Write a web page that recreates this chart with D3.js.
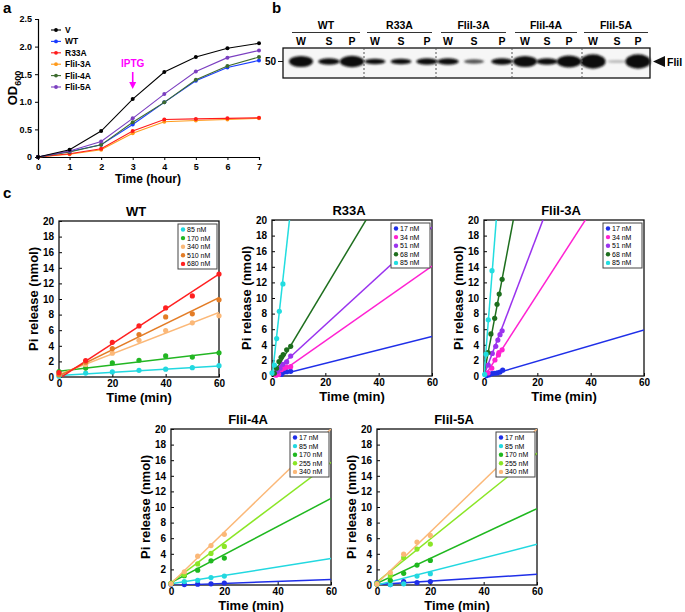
<!DOCTYPE html>
<html><head><meta charset="utf-8">
<script src="https://cdn.jsdelivr.net/npm/d3@7"></script>
<style>body{margin:0;background:#fff}svg{display:block;font-family:"Liberation Sans",Arial,Helvetica,sans-serif}</style>
</head><body><svg id="c" width="685" height="612"></svg>
<script>
// ---------- Panel a data ----------
const hours = [0,1,2,3,4,5,6,7];
const growthNames = ["V","WT","R33A","FliI-3A","FliI-4A","FliI-5A"];
const growthColors = ["#000000","#1a3cff","#ff1a1a","#ff9a1a","#3d6b2e","#7b3fc0"];
const odV      = [0,0.13,0.47,1.05,1.54,1.81,1.97,2.06];
const odWT     = [0,0.10,0.22,0.59,0.99,1.38,1.62,1.75];
const odR33A   = [0,0.06,0.15,0.47,0.68,0.69,0.70,0.71];
const odFliI3A = [0,0.05,0.13,0.43,0.64,0.66,0.68,0.70];
const odFliI4A = [0,0.09,0.22,0.63,0.99,1.40,1.65,1.81];
const odFliI5A = [0,0.11,0.28,0.70,1.14,1.55,1.80,1.93];
const odTicks = [0,0.5,1.0,1.5,2.0,2.5];

// ---------- Panel b data ----------
const blotGroups = ["WT","R33A","FliI-3A","FliI-4A","FliI-5A"];
const blotLanes = ["W","S","P"];
// band intensity (relative thickness) per group per lane
const bandStrength = [[1.0,0.6,1.05],[0.5,0.5,0.6],[0.6,0.4,0.6],[1.0,0.6,1.1],[1.3,0.25,1.3]];

// ---------- Panel c data ----------
const cTitles = ["WT","R33A","FliI-3A","FliI-4A","FliI-5A"];
const xTicksC = [0,20,40,60];
const yTicksC = [0,2,4,6,8,10,12,14,16,18,20];

const wtConc = ["85 nM","170 nM","340 nM","510 nM","680 nM"];
const wtColors = ["#22d8e0","#22b622","#fbb878","#e37c26","#ff2020"];
const wtTime = [0,10,20,30,40,50,60];
const wt85  = [0.10,0.50,0.65,0.85,1.00,1.20,1.45];
const wt170 = [0.70,1.15,1.80,2.15,2.70,2.55,3.10];
const wt340 = [0.30,1.60,3.05,4.70,5.95,6.95,7.85];
const wt510 = [0.30,1.90,3.65,5.45,7.70,8.10,9.90];
const wt680 = [0.55,2.10,4.45,6.55,8.85,10.40,13.20];
const wtFit = [[0.2,0.020],[0.75,0.040],[0.3,0.133],[0.15,0.167],[-0.2,0.223]];

const lowConc = ["17 nM","34 nM","51 nM","68 nM","85 nM"];
const lowColors = ["#1f2fe8","#ff22d2","#9a33ee","#1d6e1d","#22dde0"];
const r33aTimes = [[3.5,4,5.5,7],[1.5,2.5,3.5,4.5,5.5,7],[2,3,4,5.5,7],[0.9,1.7,2.6,3.4,4.2,5.5,7],[0,0.9,1.75,2.74,4.1]];
const r33aVals  = [[0.2,0.45,0.55,0.6],[0.1,0.2,0.8,1.0,1.15,1.2],[0.6,1.0,1.5,1.8,2.55],[0.35,1.0,1.85,2.4,2.75,3.35,3.8],[0.4,1.4,4.8,8.3,11.8]];
const r33aFit   = [[-0.1,0.086],[-0.3,0.24],[0.3,0.313],[-0.1,0.57],[-0.3,3.1]];

const f3Times = [[1,2,3,4,5,6,7],[1.5,2.9,4.1,5.4,5.6,6.8],[1.6,3.1,4.4,5.2,6.0,6.8],[1.5,2.6,4.0,4.9,5.7,6.8],[0.25,0.75,1.6,3.0]];
const f3Vals  = [[0.05,0.15,0.3,0.35,0.4,0.5,0.75],[0.4,1.0,2.05,2.7,3.0,3.35],[1.4,2.9,3.8,4.6,5.3,5.8],[3.0,5.4,7.4,9.2,10.5,12.4],[0.2,2.8,7.2,13.5]];
const f3Fit   = [[-0.1,0.1],[-0.15,0.53],[0.1,0.9],[0.2,1.8],[0,4.35]];

const highConc = ["17 nM","85 nM","170 nM","255 nM","340 nM"];
const highColors = ["#1f2fe8","#22d8e0","#1fb81f","#8be626","#fbb878"];
const hTime = [0,5,10,15,20];
const f4Vals = [[0.1,0.05,0.1,0.15,0.25],[0.15,0.45,0.6,0.95,1.15],[0.2,1.2,1.9,3.1,3.45],[0.2,1.3,2.7,4.05,4.95],[0.15,1.7,3.7,5.05,6.5]];
const f4Fit  = [[-0.05,0.0128],[0.15,0.054],[0.3,0.18],[0.3,0.257],[0.2,0.33]];
const f5Vals = [[0.3,0.05,0.45,0.3,0.45],[0.1,0.05,0.15,1.15,1.45],[0.1,0.6,1.5,2.55,3.15],[0.2,1.2,3.5,4.6,5.25],[0.1,1.6,3.95,5.5,6.35]];
const f5Fit  = [[0.05,0.022],[0.0,0.087],[0.2,0.16],[0.4,0.275],[0.2,0.33]];

// ================= drawing =================
const svg = d3.select("#c");
const defs = svg.append("defs");
defs.append("filter").attr("id","blur").attr("x","-50%").attr("y","-100%").attr("width","200%").attr("height","300%")
  .append("feGaussianBlur").attr("stdDeviation",1.3);

function panelLabel(t,x,y){svg.append("text").attr("x",x).attr("y",y).attr("font-size",15).attr("font-weight","bold").text(t);}

// ---------- Panel a ----------
panelLabel("a",3,13);
{
  const x = d3.scaleLinear().domain([0,7]).range([38,259]);
  const y = d3.scaleLinear().domain([0,2.5]).range([157,19]);
  const g = svg.append("g");
  const ax = g.append("g").attr("transform","translate(0,157)").call(d3.axisBottom(x).tickValues(hours).tickSize(3).tickFormat(d3.format("d")));
  const ay = g.append("g").attr("transform","translate(38,0)").call(d3.axisLeft(y).tickValues(odTicks).tickSize(3).tickFormat(d=>d===0?"0":d3.format(".1f")(d)));
  [ax,ay].forEach(a=>{a.selectAll("text").attr("font-size",9).attr("font-weight","bold").attr("font-family","Liberation Sans, Arial");a.select(".domain").attr("stroke-width",1.2);});
  ax.selectAll("text").attr("dy","0.75em");
  const series = [odV,odWT,odR33A,odFliI3A,odFliI4A,odFliI5A];
  const line = d3.line().x((d,i)=>x(hours[i])).y(d=>y(d));
  [3,2,1,4,5,0].forEach(k=>{
    g.append("path").attr("d",line(series[k])).attr("fill","none").attr("stroke",growthColors[k]).attr("stroke-width",1.1);
    g.selectAll(null).data(series[k]).enter().append("circle").attr("cx",(d,i)=>x(hours[i])).attr("cy",d=>y(d)).attr("r",2).attr("fill",growthColors[k]);
  });
  // legend
  growthNames.forEach((n,i)=>{
    const yy = 30 + i*11.4;
    g.append("line").attr("x1",51).attr("x2",61).attr("y1",yy).attr("y2",yy).attr("stroke",growthColors[i]).attr("stroke-width",1.1);
    g.append("circle").attr("cx",56).attr("cy",yy).attr("r",1.9).attr("fill",growthColors[i]);
    g.append("text").attr("x",65).attr("y",yy+3).attr("font-size",8.5).attr("font-weight","bold").text(n);
  });
  // IPTG arrow
  g.append("text").attr("x",x(3)).attr("y",67).attr("text-anchor","middle").attr("font-size",10).attr("font-weight","bold").attr("fill","#ff00ff").text("IPTG");
  g.append("line").attr("x1",x(3)).attr("x2",x(3)).attr("y1",72).attr("y2",83).attr("stroke","#ff00ff").attr("stroke-width",1.6);
  g.append("path").attr("d",`M${x(3)-3.5},82 L${x(3)+3.5},82 L${x(3)},89 Z`).attr("fill","#ff00ff");
  // axis titles
  const od = g.append("text").attr("transform","translate(17,88) rotate(-90)").attr("text-anchor","middle").attr("font-size",13).attr("font-weight","bold");
  od.append("tspan").text("OD");
  od.append("tspan").attr("font-size",9).attr("dy",4).text("600");
  g.append("text").attr("x",148).attr("y",183).attr("text-anchor","middle").attr("font-size",12).attr("font-weight","bold").text("Time (hour)");
}

// ---------- Panel b ----------
panelLabel("b",272,13);
{
  const g = svg.append("g");
  const boxL=283, boxR=650, boxT=48, boxB=78;
  g.append("rect").attr("x",boxL).attr("y",boxT).attr("width",boxR-boxL).attr("height",boxB-boxT).attr("fill","#f6f6f6").attr("stroke","#111").attr("stroke-width",1.3);
  const groupSpans = [[292,360],[367,432],[441,506],[515,577],[584,648]];
  const sepX = [364,436,512,582];
  const laneX = [[301,329,352],[375,401,427],[448,474,502],[525,547,569],[593,617,638]];
  blotGroups.forEach((gr,i)=>{
    const [a,b] = groupSpans[i];
    g.append("text").attr("x",(a+b)/2).attr("y",29).attr("text-anchor","middle").attr("font-size",10.5).attr("font-weight","bold").text(gr);
    g.append("line").attr("x1",a).attr("x2",b).attr("y1",32.5).attr("y2",32.5).attr("stroke","#333").attr("stroke-width",1.1);
    blotLanes.forEach((l,j)=>{
      g.append("text").attr("x",laneX[i][j]).attr("y",45).attr("text-anchor","middle").attr("font-size",10.5).attr("font-weight","bold").text(l);
      const s = bandStrength[i][j];
      g.append("ellipse").attr("cx",laneX[i][j]).attr("cy",61.5).attr("rx",9+3*Math.min(s,1.2)).attr("ry",Math.max(1.6,5.5*s)).attr("fill",s<0.3?"#bbb":(s<0.45?"#555":"#111")).attr("filter","url(#blur)");
    });
  });
  sepX.forEach(sx=>g.append("line").attr("x1",sx).attr("x2",sx).attr("y1",boxT).attr("y2",boxB).attr("stroke","#555").attr("stroke-dasharray","2,2").attr("stroke-width",1));
  g.append("text").attr("x",276).attr("y",65).attr("text-anchor","end").attr("font-size",10).attr("font-weight","bold").text("50");
  g.append("line").attr("x1",278).attr("x2",283).attr("y1",61.5).attr("y2",61.5).attr("stroke","#111");
  g.append("path").attr("d","M653,61.5 L665,56 L665,67 Z").attr("fill","#111");
  g.append("text").attr("x",667).attr("y",65.5).attr("font-size",10.5).attr("font-weight","bold").text("FliI");
}

// ---------- Panel c ----------
panelLabel("c",3,198);
let clipId=0;
function drawPanel(x0,y0,title,names,colors,times,vals,fits){
  const W=160,H=156;
  const x = d3.scaleLinear().domain([0,60]).range([x0,x0+W]);
  const y = d3.scaleLinear().domain([0,20]).range([y0+H,y0]);
  const g = svg.append("g");
  const id = "clip"+(clipId++);
  defs.append("clipPath").attr("id",id).append("rect").attr("x",x0).attr("y",y0).attr("width",W).attr("height",H);
  const ax = g.append("g").attr("transform",`translate(0,${y0+H})`).call(d3.axisBottom(x).tickValues(xTicksC).tickSize(-3).tickPadding(4));
  const ay = g.append("g").attr("transform",`translate(${x0},0)`).call(d3.axisLeft(y).tickValues(yTicksC).tickSize(-3).tickPadding(5));
  [ax,ay].forEach(a=>{a.selectAll("text").attr("font-size",10).attr("font-weight","bold").attr("font-family","Liberation Sans, Arial").attr("fill","#000");a.select(".domain").remove();});
  ax.selectAll("text").attr("dy","0.6em");
  g.append("rect").attr("x",x0).attr("y",y0).attr("width",W).attr("height",H).attr("fill","none").attr("stroke","#111").attr("stroke-width",1.3);
  const pg = g.append("g").attr("clip-path",`url(#${id})`);
  names.forEach((n,k)=>{
    const [b,m] = fits[k];
    pg.append("line").attr("x1",x(0)).attr("y1",y(b)).attr("x2",x(60)).attr("y2",y(b+60*m)).attr("stroke",colors[k]).attr("stroke-width",1.5);
  });
  names.forEach((n,k)=>{
    const tt = Array.isArray(times[0]) ? times[k] : times;
    g.selectAll(null).data(vals[k]).enter().append("circle").attr("cx",(d,i)=>x(tt[i])).attr("cy",d=>y(d)).attr("r",2.6).attr("fill",colors[k]);
  });
  // legend
  const lx = x0+W-41, ly = y0+3, lw = 39, lh = 45;
  g.append("rect").attr("x",lx).attr("y",ly).attr("width",lw).attr("height",lh).attr("fill","#fff").attr("stroke","#444").attr("stroke-width",1);
  names.forEach((n,k)=>{
    const yy = ly+5.5+k*8.6;
    g.append("circle").attr("cx",lx+5).attr("cy",yy).attr("r",2.2).attr("fill",colors[k]);
    g.append("text").attr("x",lx+9).attr("y",yy+2.5).attr("font-size",7).text(n);
  });
  g.append("text").attr("x",x0+W/2-3).attr("y",y0-5).attr("text-anchor","middle").attr("font-size",13).attr("font-weight","bold").text(title);
  g.append("text").attr("x",x0+W/2).attr("y",y0+H+25).attr("text-anchor","middle").attr("font-size",13).attr("font-weight","bold").text("Time (min)");
  g.append("text").attr("transform",`translate(${x0-21},${y0+H/2}) rotate(-90)`).attr("text-anchor","middle").attr("font-size",13).attr("font-weight","bold").text("Pi release (nmol)");
}
drawPanel(59,221,cTitles[0],wtConc,wtColors,wtTime,[wt85,wt170,wt340,wt510,wt680],wtFit);
drawPanel(272,220,cTitles[1],lowConc,lowColors,r33aTimes,r33aVals,r33aFit);
drawPanel(484,220,cTitles[2],lowConc,lowColors,f3Times,f3Vals,f3Fit);
drawPanel(171,429,cTitles[3],highConc,highColors,hTime,f4Vals,f4Fit);
drawPanel(377,429,cTitles[4],highConc,highColors,hTime,f5Vals,f5Fit);
</script></body></html>
